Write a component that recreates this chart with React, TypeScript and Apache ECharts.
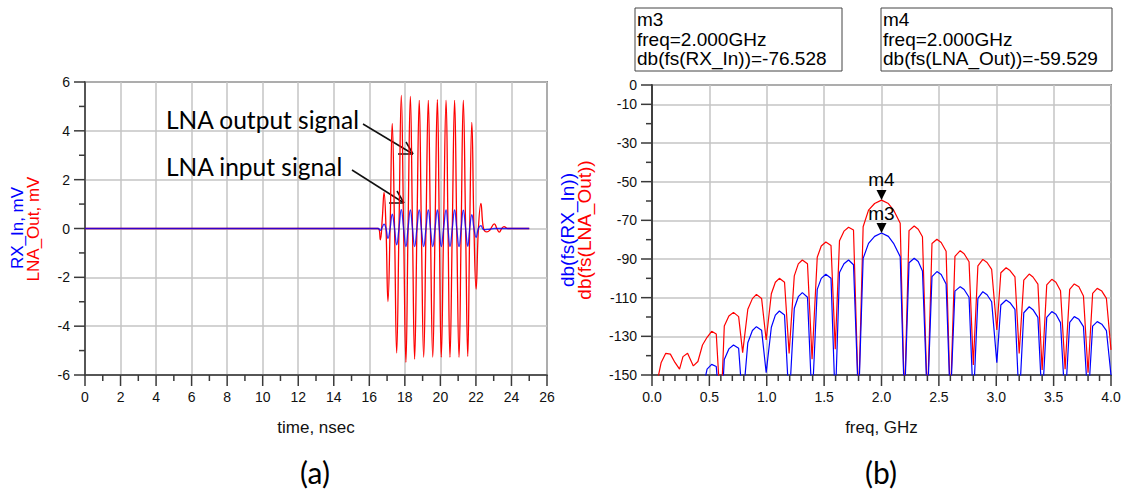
import React, { useEffect, useRef } from "react";
import * as echarts from "echarts";

// ---------- (a) time domain ----------
const timeNs = [
  0, 16.5, 16.62, 16.73, 16.83, 16.94, 17.05, 17.17, 17.29, 17.42, 17.54, 17.67, 17.8, 17.93, 18.06, 18.18,
  18.31, 18.43, 18.55, 18.68, 18.81, 18.93, 19.06, 19.19, 19.32, 19.44, 19.57, 19.7, 19.83, 19.94, 20.05,
  20.18, 20.32, 20.43, 20.54, 20.67, 20.8, 20.92, 21.05, 21.17, 21.29, 21.42, 21.54, 21.65, 21.77, 21.89,
  22.01, 22.14, 22.28, 22.4, 22.51, 22.62, 22.78, 23.04, 23.18, 23.32, 23.45, 23.58, 23.8, 25.0,
];
const lnaOutMv = [
  0, 0, -0.46, 0.4, 1.48, 0, -2.99, 0, 4.3, 0, -5.1, 0, 5.45, 0, -5.48, 0,
  5.41, 0, -5.35, 0, 5.25, 0, -5.27, 0, 5.25, 0, -5.27, 0, 5.28, 0, -5.27,
  0, 5.25, 0, -5.27, 0, 5.25, 0, -5.27, 0, 5.25, 0, -5.24, 0, 4.35, 0,
  -2.48, 0, 1.03, 0.1, -0.12, -0.14, -0.07, 0.19, 0, -0.15, 0, 0.08, 0, 0,
];
const rxInMv = [
  0, 0, -0.08, 0.05, 0.18, 0, -0.4, 0, 0.59, 0, -0.67, 0, 0.77, 0, -0.74, 0,
  0.76, 0, -0.74, 0, 0.76, 0, -0.74, 0, 0.76, 0, -0.74, 0, 0.76, 0, -0.74,
  0, 0.76, 0, -0.74, 0, 0.76, 0, -0.74, 0, 0.75, 0, -0.73, 0, 0.57, 0,
  -0.36, 0, 0.12, -0.03, -0.05, -0.04, -0.03, 0, 0, 0, 0, 0, 0, 0,
];
const timeMajor = [0, 2, 4, 6, 8, 10, 12, 14, 16, 18, 20, 22, 24, 26];
const timeMinor = [1, 3, 5, 7, 9, 11, 13, 15, 17, 19, 21, 23, 25];
const voltMajor = [-6, -4, -2, 0, 2, 4, 6];
const voltMinor = [-5, -3, -1, 1, 3, 5];

// ---------- (b) spectrum ----------
const freqGHz = [
  0.0, 0.04, 0.08, 0.12, 0.16, 0.2, 0.24, 0.27, 0.31, 0.36, 0.4, 0.44, 0.48, 0.52, 0.56, 0.6,
  0.63, 0.67, 0.71, 0.755, 0.79,
  0.835, 0.875, 0.91, 0.955, 0.995,
  1.04, 1.075, 1.11, 1.155, 1.195,
  1.24, 1.275, 1.31, 1.355, 1.395,
  1.44, 1.475, 1.515, 1.56, 1.597,
  1.634, 1.673, 1.713, 1.756, 1.8,
  1.84, 1.887, 1.94, 2.0, 2.06, 2.105, 2.163, 2.2,
  2.24, 2.285, 2.32, 2.357, 2.4,
  2.44, 2.483, 2.52, 2.563, 2.6,
  2.64, 2.686, 2.72, 2.763, 2.8,
  2.84, 2.883, 2.92, 2.96, 3.005,
  3.04, 3.086, 3.12, 3.163, 3.2,
  3.24, 3.287, 3.32, 3.363, 3.4,
  3.44, 3.484, 3.52, 3.56, 3.6,
  3.64, 3.68, 3.72, 3.76, 3.8,
  3.84, 3.88, 3.92, 3.96, 4.0,
];
const lnaOutDb = [
  -170, -155, -143.5, -138.8, -139.2, -143.5, -147, -140.5, -138.8, -145.3, -143, -134.5, -130.5, -127.4, -128.8, -170,
  -124.7, -119.5, -117.6, -119.8, -138.4,
  -116, -110.5, -108.3, -110.4, -131.9,
  -108, -102, -100, -102, -138.8,
  -98.7, -92.5, -90.5, -92.5, -141.9,
  -89.1, -83.3, -81.2, -83, -136.7,
  -80.5, -75.6, -73.6, -75, -165,
  -73.3, -64.7, -61.3, -59.53, -61.3, -64.7, -71.5, -165,
  -75.3, -72.9, -74.6, -78.5, -165,
  -82, -79.8, -81.5, -86, -165,
  -88.6, -85.7, -87.3, -91.4, -144.8,
  -93.6, -90.2, -91.8, -95.4, -126.7,
  -97.1, -94.5, -96, -99.2, -138.8,
  -100.9, -97.8, -99.3, -103, -147.4,
  -103.4, -100.5, -102, -106.4, -147,
  -105.7, -102.9, -104.4, -109.1, -148.8,
  -107.8, -105.2, -106.6, -110.4, -137,
];
const rxInDb = [
  -175, -175, -175, -175, -175, -175, -175, -175, -175, -175, -175, -158, -147, -144.5, -145.6, -175,
  -142, -136.5, -134.5, -136.2, -165,
  -133.3, -127, -125, -126.8, -148.8,
  -125.3, -119, -116.9, -119, -165,
  -115.5, -109.5, -107.4, -109.8, -165,
  -105.7, -100, -97.9, -100, -165,
  -97, -92.5, -90.5, -93, -165,
  -89.7, -81.9, -78.3, -76.53, -78.3, -81.9, -88.8, -165,
  -91.9, -89.6, -91.3, -96.2, -165,
  -99.1, -96.5, -98, -102.9, -165,
  -106.6, -104.3, -105.8, -109.8, -165,
  -110.4, -106.9, -108.5, -112.1, -143.6,
  -113.8, -111.2, -112.6, -116, -165,
  -117.8, -114.7, -116.2, -120.2, -165,
  -120.2, -117.2, -118.6, -122.9, -165,
  -122.8, -119.8, -121.2, -125, -165,
  -124.7, -122.4, -123.7, -127, -150,
];
const freqMajor = [0, 0.5, 1, 1.5, 2, 2.5, 3, 3.5, 4];
const freqMinor = [
  0.1, 0.2, 0.3, 0.4, 0.6, 0.7, 0.8, 0.9, 1.1, 1.2, 1.3, 1.4, 1.6, 1.7, 1.8, 1.9,
  2.1, 2.2, 2.3, 2.4, 2.6, 2.7, 2.8, 2.9, 3.1, 3.2, 3.3, 3.4, 3.6, 3.7, 3.8, 3.9,
];
const dbTickLabels = [0, -10, -30, -50, -70, -90, -110, -130, -150];
const dbMinor = [-20, -40, -60, -80, -100, -120, -140];
const markerFreq = 2.0;
const m3Value = -76.528;
const m4Value = -59.529;

const AX = "#3a3a3a";
const GRID = "#c4c4c4";
const FAM = "Liberation Sans, Arial, Helvetica, sans-serif";
const CAL = "Lato, sans-serif";

function markerBox(x: number, y: number, w: number, lines: string[]) {
  return {
    type: "group",
    children: [
      { type: "rect", shape: { x, y, width: w, height: 63 }, style: { fill: "#fff", stroke: "#444", lineWidth: 1 } },
      {
        type: "text",
        x: x + 2,
        y: y + 2,
        style: { text: lines.join("\n"), fontSize: 19, fontFamily: FAM, fill: "#000", lineHeight: 19.5, verticalAlign: "top" },
      },
    ],
  };
}

function arrow(x1: number, y1: number, x2: number, y2: number, hx1: number, hy1: number, hx2: number, hy2: number) {
  const st = { stroke: "#111", lineWidth: 1.5 };
  return [
    { type: "line", shape: { x1, y1, x2, y2 }, style: st },
    { type: "line", shape: { x1: hx1, y1: hy1, x2, y2 }, style: st },
    { type: "line", shape: { x1: hx2, y1: hy2, x2, y2 }, style: st },
  ];
}

function vText(x: number, y: number, text: string, fill: string, size: number) {
  return {
    type: "text", x, y, rotation: Math.PI / 2,
    style: { text, fontSize: size, fontFamily: FAM, fill, align: "center", verticalAlign: "middle" },
  };
}

function tickLine(x1: number, y1: number, x2: number, y2: number) {
  return { type: "line", z: 10, shape: { x1, y1, x2, y2 }, style: { stroke: AX, lineWidth: 1.5 } };
}

export default function App() {
  const ref = useRef<HTMLDivElement>(null);
  useEffect(() => {
    document.body.style.margin = "0";
    const chart = echarts.init(ref.current!, undefined, { renderer: "svg" });
    const axisLine = { show: true, onZero: false, lineStyle: { color: AX, width: 1.5 } };
    const label = { color: "#111", fontSize: 14, fontFamily: FAM };
    const split = { show: true, lineStyle: { color: GRID, width: 1.5 } };
    const noTick = { show: false };
    chart.setOption({
      animation: false,
      backgroundColor: "#fff",
      textStyle: { fontFamily: FAM },
      grid: [
        { left: 85, top: 82, width: 462, height: 293, show: true, borderColor: AX, borderWidth: 1.5, backgroundColor: "transparent" },
        { left: 652, top: 85, width: 459, height: 290, show: true, borderColor: AX, borderWidth: 1.5, backgroundColor: "transparent" },
      ],
      xAxis: [
        {
          type: "value", gridIndex: 0, position: "bottom",
          min: timeMajor[0], max: timeMajor[timeMajor.length - 1], interval: timeMajor[1] - timeMajor[0],
          axisLine, axisTick: noTick, minorTick: noTick,
          axisLabel: { ...label, margin: 15 }, splitLine: split,
          name: "time, nsec", nameLocation: "middle", nameGap: 44,
          nameTextStyle: { fontSize: 17, fontFamily: FAM, color: "#111" },
        },
        {
          type: "value", gridIndex: 1, position: "bottom",
          min: freqMajor[0], max: freqMajor[freqMajor.length - 1], interval: freqMajor[1] - freqMajor[0],
          axisLine, axisTick: noTick, minorTick: noTick,
          axisLabel: { ...label, margin: 15, formatter: (v: number) => v.toFixed(1) }, splitLine: split,
          name: "freq, GHz", nameLocation: "middle", nameGap: 44,
          nameTextStyle: { fontSize: 17, fontFamily: FAM, color: "#111" },
        },
      ],
      yAxis: [
        {
          type: "value", gridIndex: 0, position: "left",
          min: voltMajor[0], max: voltMajor[voltMajor.length - 1], interval: voltMajor[1] - voltMajor[0],
          axisLine, axisTick: noTick, minorTick: noTick,
          axisLabel: { ...label, margin: 15 }, splitLine: split,
        },
        {
          type: "value", gridIndex: 1, position: "left", min: -150, max: 0, interval: 10,
          axisLine, axisTick: noTick, minorTick: noTick,
          axisLabel: { ...label, margin: 15, formatter: (v: number) => (dbTickLabels.includes(Math.round(v)) ? String(Math.round(v)) : "") },
          splitLine: { show: false },
        },
        {
          // helper axis: grid lines at 0, -10, -30 ... -150 (value k -> -150 + 10k)
          type: "value", gridIndex: 1, min: 0, max: 15, interval: 2, position: "left",
          axisLine, axisTick: noTick, minorTick: noTick,
          axisLabel: { show: false }, splitLine: split,
        },
      ],
      series: [
        {
          type: "line", xAxisIndex: 0, yAxisIndex: 0, showSymbol: false, smooth: 0.45,
          data: timeNs.map((t, i) => [t, lnaOutMv[i]]),
          lineStyle: { color: "#ff0000", width: 1.3 }, itemStyle: { color: "#ff0000" },
        },
        {
          type: "line", xAxisIndex: 0, yAxisIndex: 0, showSymbol: false, smooth: 0.45,
          data: timeNs.map((t, i) => [t, rxInMv[i]]),
          lineStyle: { color: "#0000ff", width: 1.3, opacity: 0.8 }, itemStyle: { color: "#0000ff" },
        },
        {
          type: "line", xAxisIndex: 1, yAxisIndex: 1, showSymbol: false,
          data: freqGHz.map((f, i) => [f, lnaOutDb[i]]),
          lineStyle: { color: "#ff0000", width: 1.2 }, itemStyle: { color: "#ff0000" },
          markPoint: {
            symbol: "triangle", symbolRotate: 180, symbolSize: [10, 10], symbolOffset: [0, -5],
            itemStyle: { color: "#000" },
            label: { show: true, position: "top", distance: 1, formatter: "m4", color: "#000", fontSize: 19, fontFamily: FAM },
            data: [{ coord: [markerFreq, m4Value] }],
          },
        },
        {
          type: "line", xAxisIndex: 1, yAxisIndex: 1, showSymbol: false,
          data: freqGHz.map((f, i) => [f, rxInDb[i]]),
          lineStyle: { color: "#0000ff", width: 1.2 }, itemStyle: { color: "#0000ff" },
          markPoint: {
            symbol: "triangle", symbolRotate: 180, symbolSize: [10, 10], symbolOffset: [0, -5],
            itemStyle: { color: "#000" },
            label: { show: true, position: "top", distance: 0, formatter: "m3", color: "#000", fontSize: 19, fontFamily: FAM },
            data: [{ coord: [markerFreq, m3Value] }],
          },
        },
      ],
    });

    // axis ticks, placed through the axes' own scales
    const px = (dim: "x" | "y", idx: number, v: number) =>
      chart.convertToPixel(dim === "x" ? { xAxisIndex: idx } : { yAxisIndex: idx }, v) as number;
    const ticks: any[] = [];
    const aBottom = px("y", 0, voltMajor[0]);
    const aLeft = px("x", 0, timeMajor[0]);
    timeMajor.forEach((v) => ticks.push(tickLine(px("x", 0, v), aBottom, px("x", 0, v), aBottom + 11)));
    timeMinor.forEach((v) => ticks.push(tickLine(px("x", 0, v), aBottom, px("x", 0, v), aBottom + 6)));
    voltMajor.forEach((v) => ticks.push(tickLine(aLeft - 11, px("y", 0, v), aLeft, px("y", 0, v))));
    voltMinor.forEach((v) => ticks.push(tickLine(aLeft - 6, px("y", 0, v), aLeft, px("y", 0, v))));
    const bBottom = px("y", 1, -150);
    const bLeft = px("x", 1, freqMajor[0]);
    freqMajor.forEach((v) => ticks.push(tickLine(px("x", 1, v), bBottom, px("x", 1, v), bBottom + 11)));
    freqMinor.forEach((v) => ticks.push(tickLine(px("x", 1, v), bBottom, px("x", 1, v), bBottom + 6)));
    dbTickLabels.forEach((v) => ticks.push(tickLine(bLeft - 11, px("y", 1, v), bLeft, px("y", 1, v))));
    dbMinor.forEach((v) => ticks.push(tickLine(bLeft - 6, px("y", 1, v), bLeft, px("y", 1, v))));

    chart.setOption({
      graphic: [
        ...ticks,
        vText(17, 228, "RX_In, mV", "#0000ff", 17),
        vText(33, 229, "LNA_Out, mV", "#ff0000", 17),
        vText(567, 230, "db(fs(RX_In))", "#0000ff", 19),
        vText(584, 230, "db(fs(LNA_Out))", "#ff0000", 19),
        { type: "text", x: 166, y: 119, style: { text: "LNA output signal", fontSize: 24.5, fontFamily: CAL, fill: "#000", verticalAlign: "middle" } },
        { type: "text", x: 166, y: 166, style: { text: "LNA input signal", fontSize: 24.5, fontFamily: CAL, fill: "#000", verticalAlign: "middle" } },
        ...arrow(363, 124, 413, 154, 398, 154, 406, 142),
        ...arrow(352, 170, 404, 203, 389, 203, 397, 191),
        markerBox(635, 8, 207, ["m3", "freq=2.000GHz", `db(fs(RX_In))=${m3Value.toFixed(3)}`]),
        markerBox(881, 8, 231, ["m4", "freq=2.000GHz", `db(fs(LNA_Out))=${m4Value.toFixed(3)}`]),
        { type: "text", x: 315, y: 472, style: { text: "(a)", fontSize: 30, fontFamily: CAL, fill: "#000", align: "center", verticalAlign: "middle" } },
        { type: "text", x: 881, y: 472, style: { text: "(b)", fontSize: 30, fontFamily: CAL, fill: "#000", align: "center", verticalAlign: "middle" } },
      ],
    });
    return () => chart.dispose();
  }, []);
  return <div ref={ref} style={{ width: 1128, height: 491 }} />;
}
